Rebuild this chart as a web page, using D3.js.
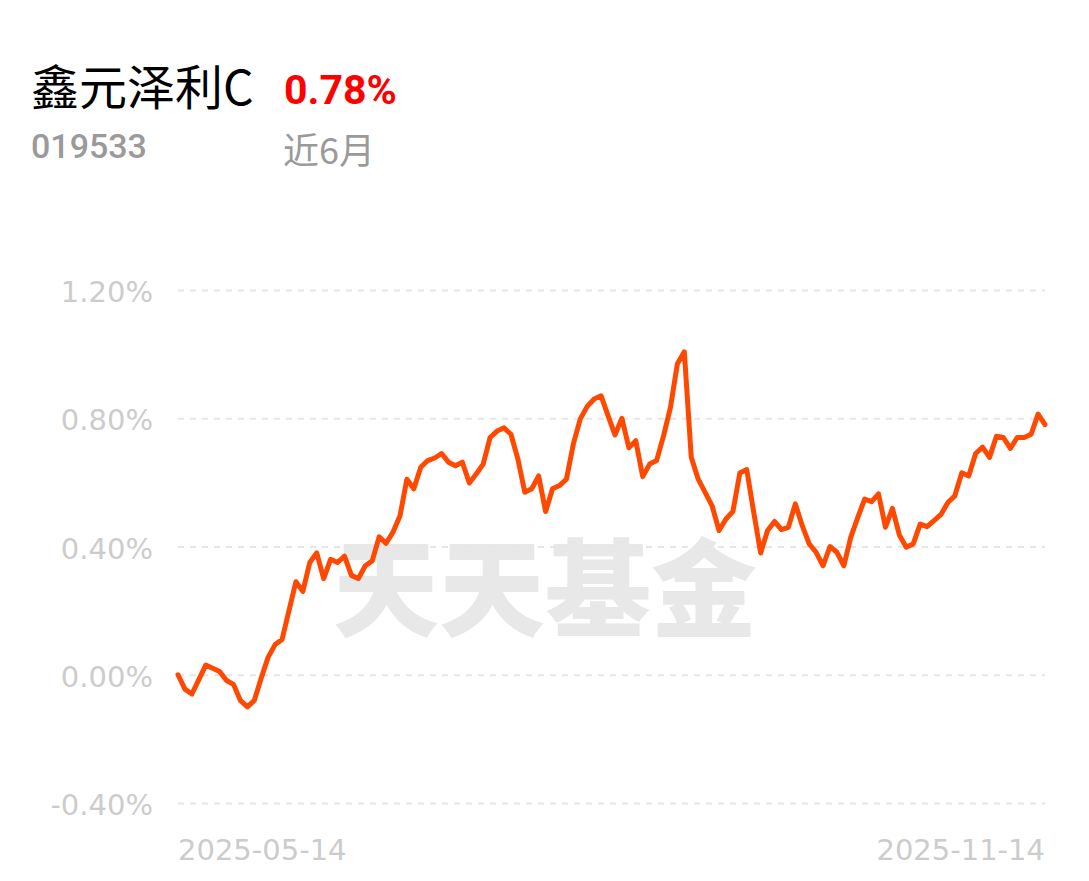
<!DOCTYPE html>
<html>
<head>
<meta charset="utf-8">
<script src="https://cdn.jsdelivr.net/npm/d3@7"></script>
<style>
  body { margin: 0; background: #fff; }
  svg { display: block; }
</style>
</head>
<body>
<div id="chart"></div>
<script>
const width = 1089, height = 881;
const margin = {top: 290, right: 44, bottom: 78, left: 178};

const fundName = "鑫元泽利C";
const fundCode = "019533";
const periodReturn = "0.78%";
const periodLabel = "近6月";
const watermark = "天天基金";

const yTicks = [-0.4, 0, 0.4, 0.8, 1.2];
const xTickLabels = ["2025-05-14", "2025-11-14"];

// cumulative return (%) per trading day
const returns = [
  0.00, -0.045, -0.06, -0.015, 0.03, 0.02, 0.01, -0.018, -0.03, -0.08,
  -0.10, -0.08, -0.01, 0.055, 0.094, 0.11, 0.20, 0.29, 0.26, 0.35,
  0.38, 0.30, 0.36, 0.35, 0.37, 0.31, 0.30, 0.34, 0.355, 0.43,
  0.41, 0.445, 0.495, 0.61, 0.58, 0.647, 0.668, 0.676, 0.69, 0.663,
  0.652, 0.663, 0.598, 0.626, 0.657, 0.74, 0.76, 0.77, 0.75, 0.673,
  0.569, 0.58, 0.62, 0.509, 0.58, 0.59, 0.61, 0.72, 0.798, 0.837,
  0.86, 0.87, 0.808, 0.748, 0.80, 0.708, 0.73, 0.618, 0.657, 0.668,
  0.745, 0.834, 0.97, 1.007, 0.678, 0.61, 0.569, 0.527, 0.45, 0.486,
  0.509, 0.629, 0.64, 0.507, 0.38, 0.45, 0.478, 0.453, 0.46, 0.533,
  0.465, 0.408, 0.382, 0.34, 0.40, 0.382, 0.34, 0.429, 0.49, 0.548,
  0.54, 0.564, 0.46, 0.519, 0.436, 0.398, 0.408, 0.47, 0.462, 0.481,
  0.50, 0.537, 0.558, 0.63, 0.62, 0.69, 0.71, 0.678, 0.744, 0.74,
  0.706, 0.74, 0.74, 0.75, 0.813, 0.78
];

let svg = d3.select("#chart")
    .append("svg")
    .attr("width", width)
    .attr("height", height);

let x = d3.scaleLinear()
    .domain([0, returns.length - 1])
    .range([margin.left, width - margin.right]);

let y = d3.scaleLinear()
    .domain([-0.4, 1.2])
    .range([height - margin.bottom, margin.top]);

// header
svg.append("text")
    .attr("x", 31).attr("y", 105)
    .style("font-family", "'Noto Sans CJK SC', 'Noto Sans'")
    .style("font-size", "48px")
    .style("fill", "#000")
    .text(fundName);

svg.append("text")
    .attr("x", 284).attr("y", 104)
    .style("font-family", "Roboto, 'Noto Sans'")
    .style("font-weight", "bold")
    .style("font-size", "41px")
    .style("fill", "#ff0000")
    .text(periodReturn);

svg.append("text")
    .attr("x", 31).attr("y", 158)
    .style("font-family", "Roboto, 'Noto Sans'")
    .style("font-weight", "500")
    .style("font-size", "34px")
    .style("fill", "#9a9a9a")
    .text(fundCode);

svg.append("text")
    .attr("x", 283).attr("y", 164)
    .style("font-family", "'Noto Sans CJK SC'")
    .style("font-size", "36px")
    .style("fill", "#9a9a9a")
    .text(periodLabel);

// watermark
svg.append("text")
    .attr("x", 545).attr("y", 628)
    .attr("text-anchor", "middle")
    .style("font-family", "'Noto Sans CJK SC'")
    .style("font-weight", "900")
    .style("font-size", "106px")
    .style("fill", "#e8e8e8")
    .text(watermark);

// grid + y labels
let yAxis = svg.append("g")
    .attr("transform", `translate(${margin.left}, 0)`)
    .call(d3.axisLeft(y)
        .tickValues(yTicks)
        .tickSize(-(width - margin.left - margin.right))
        .tickPadding(25)
        .tickFormat(d => d.toFixed(2) + "%"));

yAxis.select(".domain").remove();
yAxis.selectAll(".tick line")
    .attr("stroke", "#e6e6e6")
    .attr("stroke-width", 2)
    .attr("stroke-dasharray", "6,6");
yAxis.selectAll(".tick text")
    .attr("fill", "#cccccc")
    .attr("dy", "0.4em")
    .style("font-family", "'DejaVu Sans'")
    .style("font-size", "29px");

// x labels
svg.selectAll(".xlabel")
    .data(xTickLabels)
    .enter().append("text")
    .attr("class", "xlabel")
    .attr("x", (d, i) => i === 0 ? x(0) : x(returns.length - 1))
    .attr("y", 860)
    .attr("text-anchor", (d, i) => i === 0 ? "start" : "end")
    .style("font-family", "'DejaVu Sans'")
    .style("font-size", "29px")
    .style("fill", "#cccccc")
    .text(d => d);

// line
let line = d3.line()
    .x((d, i) => x(i))
    .y(d => y(d));

svg.append("path")
    .datum(returns)
    .attr("d", line)
    .attr("fill", "none")
    .attr("stroke", "#ff4800")
    .attr("stroke-width", 5)
    .attr("stroke-linejoin", "round")
    .attr("stroke-linecap", "round");
</script>
</body>
</html>
